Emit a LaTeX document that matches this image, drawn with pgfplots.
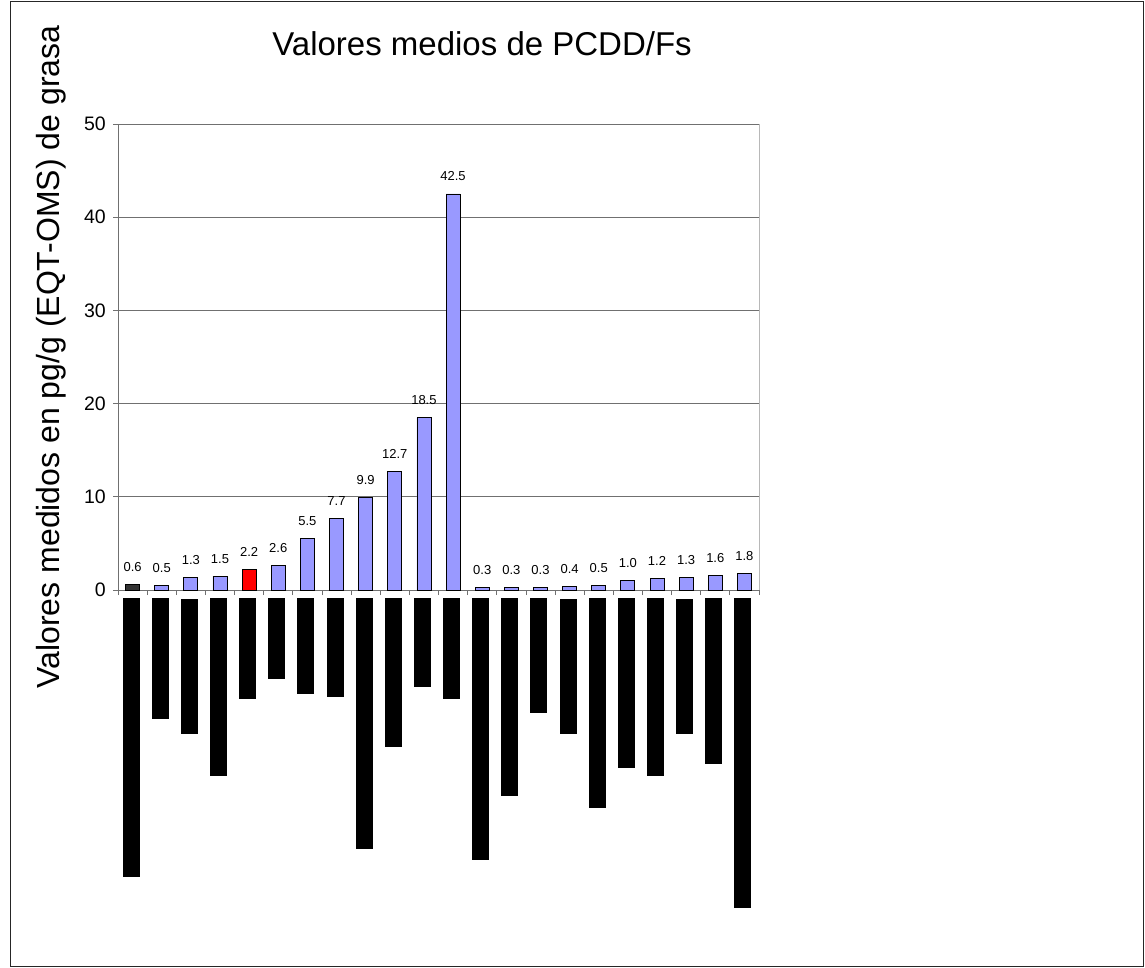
\documentclass[border=0pt]{standalone}
\usepackage{fontspec}
\setmainfont{Liberation Sans}
\usepackage{pgfplots}
\pgfplotsset{compat=1.18}
\definecolor{barblue}{HTML}{9999FF}
\definecolor{bardark}{HTML}{333333}
\definecolor{barred}{HTML}{FF0000}
\definecolor{gridgray}{HTML}{707070}
\definecolor{lightgray}{HTML}{B8B8B8}
\newcommand{\bk}[2]{\vbox{\kern#1pt\hrule width 17pt height #2pt}}
\begin{document}
\begin{tikzpicture}
\useasboundingbox (0pt,0pt) rectangle (1145pt,-968pt);
\draw[line width=1pt, black!85] (10.5pt,-1.5pt) rectangle (1143.5pt,-966.5pt);
\begin{axis}[
  at={(118pt,-590pt)}, anchor=south west,
  scale only axis, width=641pt, height=466pt,
  xmin=0.5, xmax=22.5, ymin=0, ymax=50,
  axis x line=bottom, axis y line=left,
  axis line style={-, gridgray, line width=1pt},
  every inner x axis line/.append style={-},
  every outer x axis line/.append style={-},
  every inner y axis line/.append style={-},
  every outer y axis line/.append style={-},
  /pgf/number format/assume math mode=true,
  ytick={0,10,...,50},
  ymajorgrids, grid style={gridgray, line width=1pt},
  tick align=outside, major tick length=5pt, minor tick length=5pt,
  tick style={gridgray, line width=0.8pt},
  major x tick style={draw=none},
  minor x tick style={gridgray, line width=0.8pt},
  xtick={1,...,22},
  minor xtick={0.5,1.5,...,22.5},
  xticklabels={\bk{0}{278.7},\bk{0}{120.7},\bk{1}{134.7},\bk{0}{177.7},\bk{0}{100.7},\bk{0}{80.7},\bk{0}{95.7},\bk{0}{98.7},\bk{0}{250.7},\bk{0}{148.7},\bk{0}{88.7},\bk{0}{100.7},\bk{0}{261.7},\bk{0}{197.7},\bk{0}{114.7},\bk{1}{134.7},\bk{0}{209.7},\bk{0}{169.7},\bk{0}{177.7},\bk{1}{134.7},\bk{0}{165.7},\bk{0}{309.7}},
  xticklabel style={anchor=north, inner sep=0pt, xshift=-1.5pt, yshift=-3pt},
  yticklabel style={font=\fontsize{19.5}{20}\selectfont, inner sep=0pt, xshift=-7pt},
  title={Valores medios de PCDD/Fs},
  title style={at={(axis description cs:0.568,1.1352)}, anchor=base, font=\fontsize{33}{33}\selectfont},
  ylabel={Valores medidos en pg/g (EQT-OMS) de grasa},
  ylabel style={at={(axis description cs:-0.0905,0.5)}, anchor=base, font=\fontsize{32}{32}\selectfont},
  ybar, bar width=14pt, bar shift=0pt,
  nodes near coords={\pgfmathprintnumber[fixed,fixed zerofill,precision=1]{\pgfplotspointmeta}},
  every node near coord/.append style={anchor=base, inner sep=0pt, yshift=13pt, font=\fontsize{13}{13}\selectfont, text=black},
  clip=false,
]
\addplot[draw=black, line width=0.8pt, fill=barblue] coordinates {
  (2,0.5) (3,1.3) (4,1.5) (6,2.6) (7,5.5) (8,7.7) (9,9.9) (10,12.7) (11,18.5) (12,42.5)
  (13,0.3) (14,0.3) (15,0.3) (16,0.4) (17,0.5) (18,1.0) (19,1.2) (20,1.3) (21,1.6) (22,1.8)};
\addplot[draw=black, line width=0.8pt, fill=bardark] coordinates {(1,0.6)};
\addplot[draw=black, line width=0.8pt, fill=barred] coordinates {(5,2.2)};
\draw[lightgray, line width=1pt] (rel axis cs:1,0) -- (rel axis cs:1,1);
\end{axis}
\end{tikzpicture}
\end{document}
